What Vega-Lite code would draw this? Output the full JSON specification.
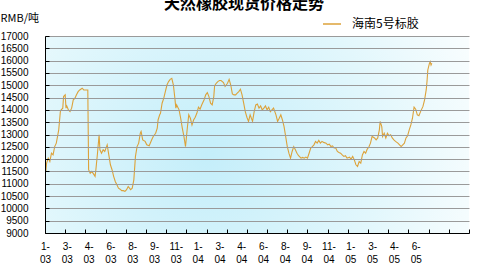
{
  "$schema": "https://vega.github.io/schema/vega-lite/v6.json",
  "width": 424,
  "height": 197,
  "autosize": {"type": "none"},
  "padding": {"left": 45, "top": 36, "right": 8, "bottom": 37},
  "background": "white",
  "title": {"text": "天然橡胶现货价格走势", "anchor": "middle", "frame": "group", "font": "Noto Sans CJK SC", "fontSize": 16, "fontWeight": "bold", "color": "black", "dx": -13, "dy": 20, "baseline": "middle", "offset": 12},
  "config": {
    "view": {"stroke": null},
    "axis": {"labelFont": "Liberation Sans", "labelFontSize": 10, "labelColor": "black", "domainColor": "black", "tickColor": "black"}
  },
  "data": {"values": [
    {"t":1,"v":11500},{"t":2,"v":11840},{"t":4,"v":12040},{"t":6,"v":11900},{"t":8,"v":12240},{"t":10,"v":12170},{"t":12,"v":12510},{"t":14,"v":12650},{"t":17,"v":13190},{"t":19,"v":13930},{"t":20,"v":14000},{"t":22,"v":14070},{"t":23,"v":14540},{"t":25,"v":14610},{"t":26,"v":14070},{"t":27,"v":14160},{"t":29,"v":14000},{"t":31,"v":13930},{"t":33,"v":14070},{"t":35,"v":14410},{"t":37,"v":14470},{"t":39,"v":14610},{"t":41,"v":14740},{"t":43,"v":14810},{"t":46,"v":14880},{"t":48,"v":14810},{"t":52,"v":14810},{"t":53,"v":14810},{"t":54,"v":11570},{"t":55,"v":11500},{"t":56,"v":11430},{"t":58,"v":11500},{"t":60,"v":11400},{"t":62,"v":11300},{"t":63,"v":11570},{"t":65,"v":12240},{"t":67,"v":12990},{"t":68,"v":12380},{"t":70,"v":12240},{"t":72,"v":12380},{"t":74,"v":12310},{"t":77,"v":12580},{"t":79,"v":12170},{"t":81,"v":11770},{"t":83,"v":11570},{"t":85,"v":11300},{"t":87,"v":11090},{"t":89,"v":10960},{"t":91,"v":10820},{"t":93,"v":10780},{"t":95,"v":10720},{"t":97,"v":10720},{"t":99,"v":10690},{"t":101,"v":10760},{"t":103,"v":10890},{"t":106,"v":10760},{"t":108,"v":10820},{"t":110,"v":11160},{"t":112,"v":12110},{"t":114,"v":12510},{"t":116,"v":12650},{"t":118,"v":13050},{"t":119,"v":13120},{"t":121,"v":12780},
    {"t":124,"v":12720},{"t":126,"v":12580},{"t":129,"v":12540},{"t":132,"v":12780},{"t":134,"v":12920},{"t":137,"v":13050},{"t":139,"v":13260},{"t":140,"v":13590},{"t":142,"v":13800},{"t":143,"v":13860},{"t":145,"v":14270},{"t":147,"v":14470},{"t":149,"v":14740},{"t":151,"v":15010},{"t":153,"v":15150},{"t":155,"v":15240},{"t":157,"v":15280},{"t":159,"v":15010},{"t":161,"v":14410},{"t":162,"v":14070},{"t":163,"v":14200},{"t":166,"v":14000},{"t":168,"v":13660},{"t":170,"v":13260},{"t":172,"v":12920},{"t":174,"v":12510},{"t":176,"v":13190},{"t":178,"v":13800},{"t":180,"v":13660},{"t":182,"v":13390},{"t":184,"v":13590},{"t":186,"v":13700},{"t":188,"v":13860},{"t":190,"v":14110},{"t":192,"v":14030},{"t":194,"v":14200},{"t":197,"v":14410},{"t":199,"v":14610},{"t":201,"v":14700},{"t":203,"v":14540},{"t":205,"v":14270},{"t":207,"v":14200},{"t":209,"v":14540},{"t":210,"v":14970},{"t":212,"v":15080},{"t":214,"v":15150},{"t":216,"v":15190},{"t":218,"v":15190},{"t":221,"v":15110},{"t":223,"v":14950},{"t":226,"v":15080},{"t":228,"v":15240},{"t":230,"v":15010},{"t":232,"v":14650},{"t":234,"v":14610},{"t":236,"v":14610},{"t":238,"v":14680},{"t":240,"v":14740},{"t":242,"v":14840},{"t":244,"v":14610},{"t":246,"v":14270},{"t":248,"v":13930},{"t":250,"v":13700},{"t":252,"v":13530},{"t":254,"v":13800},{"t":257,"v":13530},{"t":259,"v":13930},{"t":261,"v":14200},
    {"t":263,"v":14240},{"t":265,"v":14070},{"t":267,"v":14160},{"t":269,"v":14000},{"t":271,"v":14070},{"t":273,"v":14160},{"t":275,"v":14000},{"t":277,"v":14110},{"t":279,"v":13930},{"t":281,"v":14000},{"t":283,"v":14070},{"t":286,"v":13800},{"t":288,"v":13530},{"t":290,"v":13660},{"t":292,"v":13800},{"t":294,"v":13590},{"t":296,"v":13320},{"t":298,"v":12920},{"t":300,"v":12510},{"t":302,"v":12240},{"t":304,"v":12040},{"t":306,"v":12310},{"t":308,"v":12510},{"t":310,"v":12380},{"t":312,"v":12240},{"t":314,"v":12140},{"t":317,"v":12040},{"t":319,"v":12070},{"t":321,"v":12040},{"t":323,"v":12080},{"t":325,"v":12040},{"t":327,"v":12240},{"t":329,"v":12450},{"t":331,"v":12510},{"t":333,"v":12580},{"t":335,"v":12720},{"t":337,"v":12650},{"t":339,"v":12760},{"t":341,"v":12650},{"t":343,"v":12720},{"t":345,"v":12680},{"t":348,"v":12650},{"t":350,"v":12580},{"t":352,"v":12610},{"t":354,"v":12510},{"t":356,"v":12540},{"t":358,"v":12450},{"t":360,"v":12450},{"t":362,"v":12310},{"t":364,"v":12270},{"t":366,"v":12240},{"t":368,"v":12170},{"t":370,"v":12110},{"t":372,"v":12140},{"t":374,"v":12040},{"t":377,"v":12080},{"t":379,"v":12000},{"t":381,"v":12110},{"t":383,"v":11970},{"t":385,"v":11770},{"t":387,"v":11700},{"t":389,"v":11900},{"t":391,"v":11840},
    {"t":393,"v":12170},{"t":395,"v":12310},{"t":397,"v":12240},{"t":399,"v":12410},{"t":401,"v":12490},{"t":403,"v":12650},{"t":405,"v":12920},{"t":408,"v":12860},{"t":410,"v":12780},{"t":412,"v":12860},{"t":414,"v":13190},{"t":415,"v":13530},{"t":417,"v":13320},{"t":418,"v":12920},{"t":420,"v":13050},{"t":422,"v":12860},{"t":424,"v":13050},{"t":426,"v":12950},{"t":428,"v":12990},{"t":430,"v":12860},{"t":432,"v":12780},{"t":434,"v":12720},{"t":437,"v":12650},{"t":439,"v":12580},{"t":441,"v":12510},{"t":443,"v":12580},{"t":445,"v":12650},{"t":447,"v":12860},{"t":449,"v":12950},{"t":451,"v":13190},{"t":453,"v":13390},{"t":455,"v":13660},{"t":457,"v":14110},{"t":459,"v":14030},{"t":461,"v":13800},{"t":463,"v":13760},{"t":465,"v":13930},{"t":468,"v":14140},{"t":470,"v":14410},{"t":472,"v":14810},{"t":473,"v":15150},{"t":474,"v":15620},{"t":476,"v":15890},{"t":477,"v":15960},{"t":478,"v":15820},{"t":479,"v":15890}
  ]},
  "layer": [
    {
      "data": {"values": [{"x0": 0, "x1": 525, "y0": 9000, "y1": 17000}]},
      "mark": {"type": "rect", "fill": {"gradient": "radial", "x1": 0.38, "y1": 0.55, "r1": 0, "x2": 0.38, "y2": 0.55, "r2": 0.75, "stops": [{"offset": 0, "color": "#c4eefa"}, {"offset": 0.55, "color": "#e2f7fc"}, {"offset": 1, "color": "#ffffff"}]}},
      "encoding": {
        "x": {"field": "x0", "type": "quantitative", "scale": {"domain": [0, 525], "nice": false, "zero": false},
              "axis": {"values": [0,25,50,75,100,125,150,175,200,225,250,275,300,325,350,375,400,425,450,475,500,525], "labels": false, "grid": false, "title": null, "tickSize": -4, "domain": true, "orient": "bottom", "zindex": 2}},
        "x2": {"field": "x1"},
        "y": {"field": "y0", "type": "quantitative", "scale": {"domain": [9000, 17000], "nice": false, "zero": false}, "axis": null},
        "y2": {"field": "y1"}
      }
    },
    {
      "mark": {"type": "line", "strokeWidth": 1.1, "interpolate": "linear"},
      "encoding": {
        "x": {"field": "t", "type": "quantitative",
              "axis": {"values": [0,27,54,81,108,135,162,189,216,243,270,297,324,351,378,405,432,459], "ticks": false, "domain": false, "grid": false, "title": null, "orient": "bottom", "labelPadding": 8, "labelBaseline": "top", "labelLineHeight": 13, "labelOverlap": false, "labelFlush": false,
                       "labelExpr": "[['1-','03'],['3-','03'],['4-','03'],['6-','03'],['8-','03'],['9-','03'],['11-','03'],['1-','04'],['3-','04'],['4-','04'],['6-','04'],['8-','04'],['9-','04'],['11-','04'],['1-','05'],['3-','05'],['4-','05'],['6-','05']][round(datum.value/27)]"}},
        "y": {"field": "v", "type": "quantitative",
              "axis": {"values": [9000,9500,10000,10500,11000,11500,12000,12500,13000,13500,14000,14500,15000,15500,16000,16500,17000], "format": "d", "grid": true, "gridColor": "#9a9a9a", "gridOpacity": 1, "gridWidth": 1, "tickSize": -4, "labelPadding": 21, "zindex": 1,
                       "title": "RMB/吨", "titleAngle": 0, "titleX": -45, "titleY": -18, "titleAlign": "left", "titleBaseline": "middle", "titleFont": "Noto Sans CJK SC", "titleFontSize": 11, "titleFontWeight": "normal", "titleColor": "black"}},
        "color": {"datum": "海南5号标胶", "type": "nominal", "scale": {"range": ["#dca23a"]},
                  "legend": {"orient": "none", "legendX": 277, "legendY": -22, "title": null, "symbolType": "stroke", "symbolSize": 324, "symbolStrokeWidth": 1.5, "labelFont": "Noto Sans CJK SC", "labelFontSize": 12, "labelColor": "black", "labelOffset": 10, "padding": 0}}
      }
    }
  ],
  "resolve": {"axis": {"x": "independent", "y": "independent"}}
}
